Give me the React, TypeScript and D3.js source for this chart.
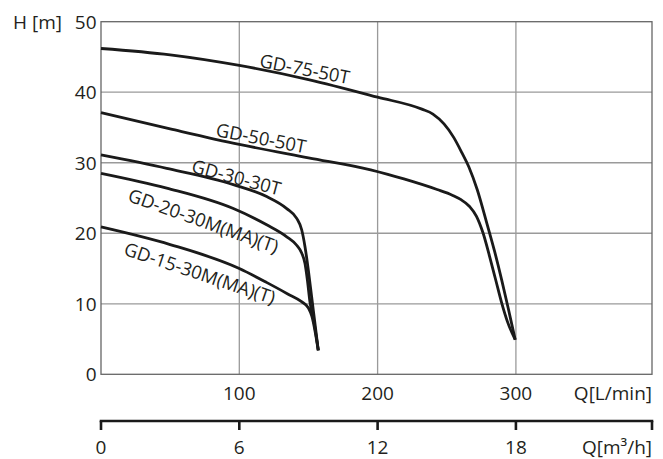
import React from "react";
import * as d3 from "d3";

// Q in L/min, H in m
const gd7550T: [number, number][] = [
  [0, 46.2], [50, 45.3], [100, 43.8], [150, 41.8], [200, 39.3], [232, 37.6],
  [240, 36.9], [248, 35.5], [255, 33.6], [261, 31.4], [266, 29.4], [272, 26.2],
  [279, 21.4], [284.5, 17.5], [289.7, 13.4], [294.4, 9.4], [299.5, 4.9],
];
const gd5050T: [number, number][] = [
  [0, 37.1], [50, 34.8], [100, 32.6], [150, 30.7], [195, 29.0], [219, 27.7],
  [243, 26.2], [254, 25.4], [260, 24.8], [266.5, 23.8], [271.5, 22.4],
  [276.3, 20], [281, 16.7], [285.5, 13.3], [289.6, 10.2], [294, 7.4], [299.5, 4.9],
];
const gd3030T: [number, number][] = [
  [0, 31.1], [47.5, 29.2], [95.7, 26.9], [119.8, 25.2], [134.3, 23.5],
  [141.5, 22.1], [145.1, 20.5], [147.5, 18.1], [149.9, 14.8], [152.3, 11.0],
  [154.7, 7.2], [157.1, 3.4],
];
const gd2030M: [number, number][] = [
  [0, 28.5], [47.5, 26.4], [95.7, 23.5], [119.8, 21.2], [134.3, 19.5],
  [141.5, 18.3], [145.1, 17.2], [147.5, 15.7], [149.2, 13.4], [151.2, 10.1],
  [153.5, 8.0], [157.1, 3.4],
];
const gd1530M: [number, number][] = [
  [0, 20.9], [50, 18.4], [100, 15.0], [120, 13.0], [135, 11.4], [145, 10.3],
  [150, 9.4], [152.5, 8.2], [154.6, 6.3], [157.1, 3.4],
];

const seriesList = [gd7550T, gd5050T, gd3030T, gd2030M, gd1530M];

// curve labels: text, anchor point (Q, H), rotation
const curveLabels = ["GD-75-50T", "GD-50-50T", "GD-30-30T", "GD-20-30M(MA)(T)", "GD-15-30M(MA)(T)"];
const labelAnchors: [number, number][] = [[114, 43.6], [82.5, 33.8], [64.8, 28.7], [18.6, 24.6], [15.7, 17.0]];
const labelAngles = [11, 11, 15, 19.5, 18.5];

const qTicks = [100, 200, 300];
const hTicks = [0, 10, 20, 30, 40, 50];
const m3Ticks = [0, 6, 12, 18];

const W = 663, H = 459;
const left = 101, right = 652, top = 21.7, bottom = 374.3;

export default function App() {
  const x = d3.scaleLinear().domain([0, 398.4]).range([left, right]);
  const y = d3.scaleLinear().domain([0, 50]).range([bottom, top]);
  const xm = d3.scaleLinear().domain([0, 398.4 * 0.06]).range([left, right]);
  const line = d3.line<[number, number]>().x(d => x(d[0])).y(d => y(d[1])).curve(d3.curveMonotoneX);
  const font = "'Open Sans', sans-serif";
  const txt = "#231f20";
  const axisY = 421;
  return (
    <svg width={W} height={H} style={{ position: "absolute", left: 0, top: 0 }} fontFamily={font}>
      <rect x={0} y={0} width={W} height={H} fill="#fff" />
      {qTicks.map(q => (
        <line key={"gq" + q} x1={x(q)} x2={x(q)} y1={top} y2={bottom} stroke="#9a9a9a" strokeWidth={1.3} />
      ))}
      {hTicks.filter(h => h > 0 && h < 50).map(h => (
        <line key={"gh" + h} x1={left} x2={right} y1={y(h)} y2={y(h)} stroke="#9a9a9a" strokeWidth={1.3} />
      ))}
      <rect x={left} y={top} width={right - left} height={bottom - top} fill="none" stroke="#666" strokeWidth={1.3} />
      {seriesList.map((s, i) => (
        <path key={"s" + i} d={line(s) || ""} fill="none" stroke="#1a1a1a" strokeWidth={2.8} strokeLinejoin="round" />
      ))}
      {curveLabels.map((t, i) => {
        const px = x(labelAnchors[i][0]);
        const py = y(labelAnchors[i][1]);
        return (
          <text key={"l" + i} x={px} y={py} fontSize={18.5} fill={txt}
            transform={`rotate(${labelAngles[i]} ${px} ${py})`}>{t}</text>
        );
      })}
      {hTicks.map(h => (
        <text key={"ht" + h} x={96.5} y={y(h)} dy="0.36em" textAnchor="end" fontSize={19} fill={txt}>{h}</text>
      ))}
      <text x={13} y={y(50)} dy="0.36em" fontSize={19} fill={txt}>H [m]</text>
      {qTicks.map(q => (
        <text key={"qt" + q} x={x(q)} y={400} textAnchor="middle" fontSize={19} fill={txt}>{q}</text>
      ))}
      <text x={right} y={400} textAnchor="end" fontSize={19} fill={txt}>Q[L/min]</text>
      <line x1={left - 1.3} x2={right + 1.3} y1={axisY} y2={axisY} stroke="#1a1a1a" strokeWidth={2.7} />
      {[...m3Ticks.map(m => xm(m)), right].map((px, i) => (
        <line key={"mt" + i} x1={px} x2={px} y1={axisY} y2={430} stroke="#1a1a1a" strokeWidth={2.6} />
      ))}
      {m3Ticks.map(m => (
        <text key={"mtl" + m} x={xm(m)} y={454} textAnchor="middle" fontSize={19} fill={txt}>{m}</text>
      ))}
      <text x={right} y={454} textAnchor="end" fontSize={19} fill={txt}>Q[m³/h]</text>
    </svg>
  );
}
